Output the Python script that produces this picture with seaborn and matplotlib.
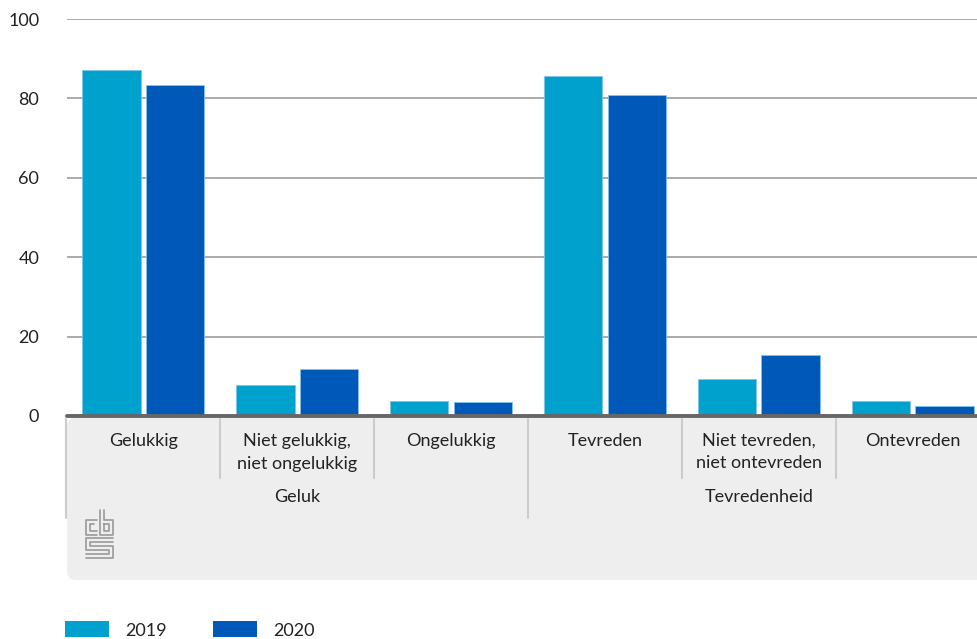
import pandas as pd
import seaborn as sns
from matplotlib import pyplot as plt
from matplotlib import patches, transforms
from matplotlib.lines import Line2D

W, H = 977, 639

CATEGORIES = ['Gelukkig', 'Niet gelukkig,\nniet ongelukkig', 'Ongelukkig',
              'Tevreden', 'Niet tevreden,\nniet ontevreden', 'Ontevreden']
GROUPS = ['Geluk', 'Tevredenheid']
YEARS = ['2019', '2020']
VALUES_2019 = [87.2, 7.8, 3.9, 85.6, 9.4, 3.9]
VALUES_2020 = [83.4, 11.9, 3.5, 80.9, 15.4, 2.6]
COLORS = ['#00a1cd', '#0058b8']
Y_TICKS = [0, 20, 40, 60, 80, 100]

TEXT_COLOR = '#222222'
FONT = 'Lato'
FS = 13


def px_transform(fig):
    # pixel coordinates measured from top-left of the figure
    return transforms.Affine2D().scale(1 / W, -1 / H).translate(0, 1) + fig.transFigure


if __name__ == '__main__':
    sns.set_style('white')
    plt.rcParams['font.family'] = [FONT, 'DejaVu Sans']

    df = pd.DataFrame({
        'categorie': CATEGORIES * 2,
        'jaar': [YEARS[0]] * len(CATEGORIES) + [YEARS[1]] * len(CATEGORIES),
        'waarde': VALUES_2019 + VALUES_2020,
    })

    fig = plt.figure(figsize=(W / 100, H / 100), dpi=100)
    ax = fig.add_axes([67 / W, 1 - 416 / H, 910 / W, 397 / H])
    ax.set_zorder(2)
    ax.patch.set_alpha(0)
    pxt = px_transform(fig)

    # grey panel behind the category labels
    panel = patches.FancyBboxPatch((67, 418), 960, 162,
                                   boxstyle='round,pad=0,rounding_size=9',
                                   transform=pxt, facecolor='#eeeeee',
                                   edgecolor='none', zorder=0)
    fig.patches.append(panel)

    sns.barplot(data=df, x='categorie', y='waarde', hue='jaar',
                palette=COLORS, saturation=1, width=0.82, gap=0.08, ax=ax,
                edgecolor='#7fc4ec', linewidth=0.6, legend=False, zorder=3)

    ax.set_xlim(-0.494, 5.416)
    ax.set_ylim(0, 100)
    ax.set_yticks(Y_TICKS)
    ax.set_yticklabels([str(v) for v in Y_TICKS], fontsize=FS, color=TEXT_COLOR)
    ax.tick_params(axis='y', length=0, pad=20)
    ax.yaxis.grid(True, color='#aaaaaa', linewidth=1.4)
    ax.set_axisbelow(True)
    for s in ax.spines.values():
        s.set_visible(False)
    ax.set_xlabel('')
    ax.set_ylabel('')
    ax.set_xticks([])
    ax.axhline(0, color='#666666', linewidth=2.8, zorder=4, clip_on=False)

    # category and group labels with separators
    bt = transforms.blended_transform_factory(ax.transData, pxt)
    for i, cat in enumerate(CATEGORIES):
        ax.text(i, 433, cat, transform=bt, ha='center', va='top',
                fontsize=FS, color=TEXT_COLOR, linespacing=1.5, clip_on=False)
    for i in range(len(CATEGORIES)):
        x = i - 0.5
        y_end = 518 if i % 3 == 0 else 478
        ax.add_line(Line2D([x, x], [419, y_end], transform=bt,
                           color='#cccccc', linewidth=1.5, clip_on=False))
    for g, grp in enumerate(GROUPS):
        ax.text(1 + 3 * g, 497, grp, transform=bt, ha='center', va='center',
                fontsize=FS, color=TEXT_COLOR, clip_on=False)

    # small cbs logo
    logo = [
        [(97, 520), (86, 520), (86, 535), (97, 535)],
        [(94, 524), (90, 524), (90, 531), (97, 531)],
        [(100, 510), (100, 535), (113, 535), (113, 520), (104, 520), (104, 510)],
        [(104, 524), (109, 524), (109, 531), (104, 531), (104, 524)],
        [(113, 538), (86, 538), (86, 550), (109, 550), (109, 554), (86, 554)],
        [(113, 542), (90, 542), (90, 546), (113, 546), (113, 558), (86, 558)],
    ]
    for seg in logo:
        xs, ys = zip(*seg)
        fig.add_artist(Line2D(xs, ys, transform=pxt, color='#999999', linewidth=1.2))

    # legend at the bottom
    handles = [patches.Patch(facecolor=c, edgecolor='none') for c in COLORS]
    fig.legend(handles, YEARS, loc='upper left',
               bbox_to_anchor=(49 / W, 1 - 605 / H), ncol=2, frameon=False,
               fontsize=FS, handlelength=2.4, handleheight=1.0,
               handletextpad=0.9, columnspacing=2.6, labelcolor=TEXT_COLOR)

    fig.savefig('out.png', dpi=100)
